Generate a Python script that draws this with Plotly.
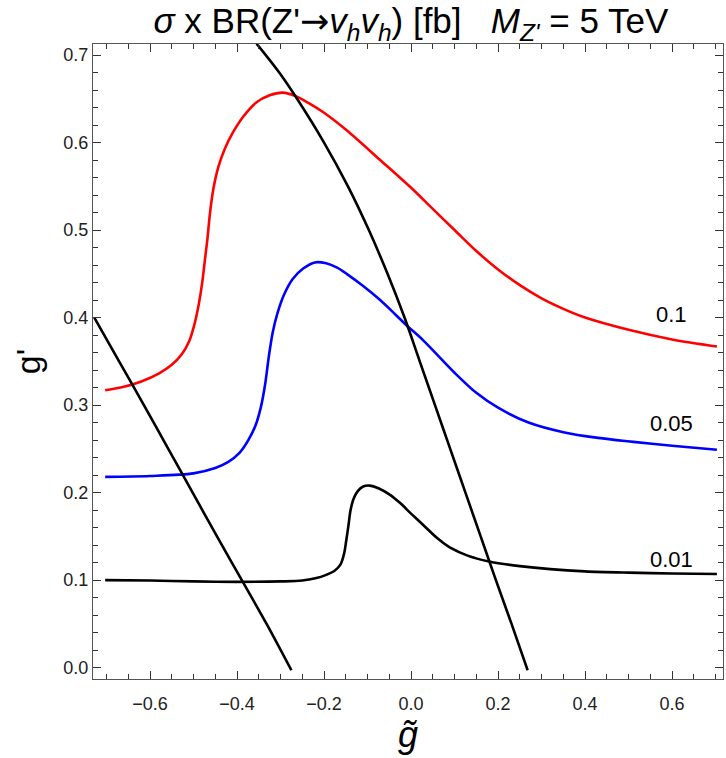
import plotly.graph_objects as go

# contour 0.1 (red)
red_x = [-0.703, -0.66, -0.62, -0.58, -0.55, -0.527, -0.51, -0.498, -0.488, -0.480, -0.474, -0.468, -0.462,
         -0.454, -0.443, -0.428, -0.41, -0.385, -0.355, -0.325, -0.295, -0.265, -0.235, -0.20, -0.148, -0.071,
         0.005, 0.044, 0.10, 0.15, 0.20, 0.25, 0.30, 0.35, 0.40, 0.50, 0.60, 0.703]
red_y = [0.317, 0.321, 0.327, 0.336, 0.346, 0.358, 0.373, 0.392, 0.415, 0.440, 0.465, 0.490, 0.520,
         0.548, 0.572, 0.593, 0.611, 0.630, 0.646, 0.654, 0.657, 0.653, 0.645, 0.634, 0.614, 0.580,
         0.546, 0.527, 0.500, 0.476, 0.455, 0.437, 0.422, 0.410, 0.400, 0.386, 0.375, 0.367]

# contour 0.05 (blue)
blue_x = [-0.703, -0.60, -0.50, -0.45, -0.42, -0.395, -0.374, -0.358, -0.345, -0.335, -0.327, -0.318, -0.307,
          -0.292, -0.272, -0.248, -0.221, -0.195, -0.17, -0.148, -0.11, -0.071, -0.035, -0.010, 0.028, 0.10,
          0.15, 0.20, 0.27, 0.35, 0.43, 0.511, 0.60, 0.703]
blue_y = [0.218, 0.219, 0.222, 0.228, 0.235, 0.245, 0.260, 0.276, 0.298, 0.325, 0.355, 0.383, 0.405,
          0.426, 0.444, 0.456, 0.463, 0.462, 0.457, 0.450, 0.436, 0.420, 0.403, 0.391, 0.374, 0.337,
          0.314, 0.297, 0.280, 0.269, 0.2625, 0.258, 0.2535, 0.249]

# contour 0.01 (black)
blk_x = [-0.703, -0.60, -0.50, -0.40, -0.30, -0.25, -0.22, -0.195, -0.175, -0.162, -0.154, -0.149, -0.144,
         -0.139, -0.132, -0.122, -0.11, -0.095, -0.075, -0.05, -0.025, 0.0, 0.028, 0.06, 0.09, 0.13, 0.182,
         0.25, 0.32, 0.40, 0.50, 0.60, 0.703]
blk_y = [0.100, 0.0995, 0.0985, 0.098, 0.0985, 0.0995, 0.102, 0.106, 0.111, 0.118, 0.130, 0.145, 0.162,
         0.180, 0.193, 0.202, 0.207, 0.208, 0.205, 0.198, 0.188, 0.176, 0.163, 0.148, 0.137, 0.128, 0.121,
         0.116, 0.1125, 0.110, 0.1085, 0.1075, 0.107]

# bound lines (black)
bl_x = [-0.728, -0.671, -0.614, -0.558, -0.502, -0.446, -0.389, -0.332, -0.275]
bl_y = [0.400, 0.350, 0.300, 0.250, 0.200, 0.150, 0.100, 0.050, -0.003]

br_x = [-0.355, -0.303, -0.262, -0.200, -0.145, -0.097, -0.054, -0.015, 0.020, 0.055, 0.090, 0.125, 0.160,
        0.195, 0.231, 0.268]
br_y = [0.713, 0.680, 0.650, 0.600, 0.550, 0.500, 0.450, 0.400, 0.350, 0.300, 0.250, 0.200, 0.150,
        0.100, 0.050, -0.003]

labels = ["0.1", "0.05", "0.01"]
label_x = [0.599, 0.599, 0.599]
label_y = [0.403, 0.279, 0.123]

x_range = [-0.731, 0.717]
y_range = [-0.013, 0.7126]

fig = go.Figure()
for xs, ys, c in [(red_x, red_y, "#ff0000"), (blue_x, blue_y, "#0000ff"), (blk_x, blk_y, "#000000"),
                  (bl_x, bl_y, "#000000"), (br_x, br_y, "#000000")]:
    fig.add_trace(go.Scatter(x=xs, y=ys, mode="lines", line=dict(color=c, width=2.6, shape="spline", smoothing=0.9),
                             showlegend=False, hoverinfo="skip"))

for t, x, y in zip(labels, label_x, label_y):
    fig.add_annotation(x=x, y=y, text=t, showarrow=False, xanchor="center", yanchor="middle",
                       font=dict(size=22, color="black", family="Liberation Sans, Arial, sans-serif"))

title_text = ("<i>σ</i> x BR(Z'<span style='font-family:DejaVu Sans'>→</span>"
              "<i>v<sub>h</sub>v<sub>h</sub></i>) [fb]   <i>M<sub>Z'</sub></i> = 5 TeV")

fig.update_layout(
    width=726, height=758,
    margin=dict(l=93, r=3, t=44, b=79),
    paper_bgcolor="white", plot_bgcolor="white",
    font=dict(family="Liberation Sans, Arial, sans-serif", color="#222"),
    title=dict(text=title_text, x=0.566, xanchor="center", y=0.972, yanchor="middle",
               font=dict(size=35, color="black", family="Liberation Sans, Arial, sans-serif")),
)

fig.update_xaxes(range=x_range, showgrid=False, zeroline=False, showline=True, linecolor="#555", linewidth=1,
                 mirror="allticks", ticks="inside", ticklen=8, tickcolor="#333", tickwidth=1,
                 tickvals=[-0.6, -0.4, -0.2, 0.0, 0.2, 0.4, 0.6], tickformat=".1f",
                 tickfont=dict(size=18, color="#222"), ticklabelstandoff=8,
                 minor=dict(dtick=0.05, tick0=0, ticks="inside", ticklen=5, tickcolor="#333", showgrid=False),
                 title=dict(text="<i>g̃</i>", font=dict(size=36, color="black"), standoff=6))
fig.update_yaxes(range=y_range, showgrid=False, zeroline=False, showline=True, linecolor="#555", linewidth=1,
                 mirror="allticks", ticks="inside", ticklen=8, tickcolor="#333", tickwidth=1,
                 tickvals=[0.0, 0.1, 0.2, 0.3, 0.4, 0.5, 0.6, 0.7], tickformat=".1f",
                 tickfont=dict(size=18, color="#222"),
                 minor=dict(dtick=0.02, tick0=0, ticks="inside", ticklen=5, tickcolor="#333", showgrid=False),
                 title=dict(text="g'", font=dict(size=34, color="black"), standoff=12))

fig.write_html("out.html")
